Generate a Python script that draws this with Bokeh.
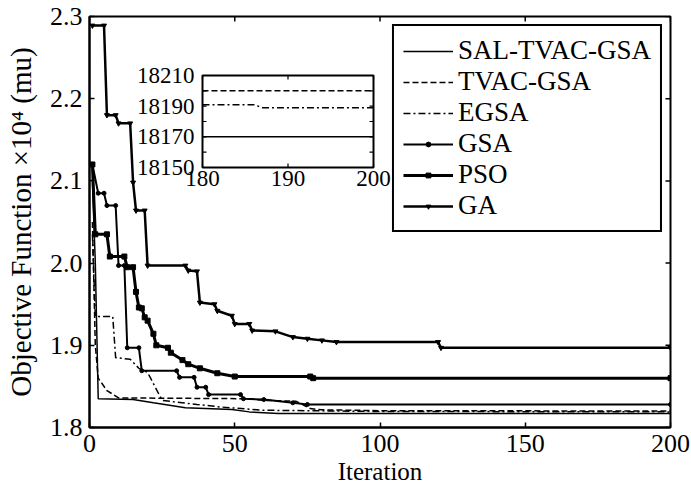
import numpy as np
from bokeh.plotting import figure
from bokeh.models import Range1d, FixedTicker, Legend, LegendItem
from bokeh.core.properties import value
from bokeh.embed import file_html
from bokeh.resources import INLINE

FONT = "Liberation Serif"

# ---------------- data (objective x 10^4) ----------------
sal_iter = [1, 2, 3, 15, 22, 33, 49, 55, 65, 200]
sal_val = [2.10, 2.00, 1.835, 1.834, 1.830, 1.824, 1.822, 1.819, 1.817, 1.817]

tvac_iter = [1, 2, 3, 6, 10, 55, 60, 71, 76, 80, 100, 200]
tvac_val = [2.05, 1.90, 1.860, 1.845, 1.836, 1.835, 1.833, 1.832, 1.823, 1.8215, 1.8205, 1.8200]

egsa_iter = [1, 2, 8, 9, 14, 17, 20, 25, 37, 45, 60, 100, 200]
egsa_val = [2.035, 1.935, 1.935, 1.885, 1.883, 1.872, 1.867, 1.833, 1.828, 1.825, 1.821, 1.8195, 1.819]

gsa_iter = [1, 3, 5, 6, 9, 10, 12, 13, 17, 18, 30, 31, 36, 37, 40, 41, 52, 53, 60, 70, 75, 200]
gsa_val = [2.12, 2.085, 2.085, 2.07, 2.07, 1.997, 1.997, 1.897, 1.897, 1.869, 1.869, 1.861, 1.861,
           1.849, 1.849, 1.840, 1.840, 1.835, 1.834, 1.830, 1.828, 1.828]

pso_iter = [1, 2, 6, 7, 12, 13, 15, 16, 17, 18, 19, 20, 22, 23, 27, 28, 32, 34, 38, 44, 50, 76, 77, 200]
pso_val = [2.12, 2.035, 2.035, 2.008, 2.008, 1.995, 1.995, 1.965, 1.946, 1.945, 1.934, 1.930, 1.914,
           1.900, 1.897, 1.891, 1.882, 1.877, 1.872, 1.866, 1.862, 1.862, 1.860, 1.860]

ga_iter = [1, 5, 6, 9, 10, 14, 15, 16, 19, 20, 33, 34, 37, 38, 43, 44, 49, 50, 55, 56, 64, 70, 75,
           80, 85, 120, 121, 200]
ga_val = [2.289, 2.289, 2.180, 2.180, 2.170, 2.170, 2.098, 2.064, 2.064, 1.997, 1.997, 1.991, 1.990,
          1.952, 1.950, 1.942, 1.936, 1.926, 1.926, 1.918, 1.917, 1.910, 1.908, 1.906, 1.904, 1.904,
          1.897, 1.897]

x_ticks = [0, 50, 100, 150, 200]
y_ticks = [1.8, 1.9, 2.0, 2.1, 2.2, 2.3]

# inset (absolute objective values)
inset_iter = [180, 186, 187, 200]
inset_sal = [18170, 18170, 18170, 18170]
inset_tvac = [18200, 18200, 18200, 18200]
inset_egsa = [18191, 18191, 18189, 18189]
inset_x_ticks = [180, 190, 200]
inset_y_ticks = [18150, 18160, 18170, 18180, 18190, 18200, 18210]
inset_y_label_ticks = [18150, 18170, 18190, 18210]

# ---------------- layout constants (pixels) ----------------
W, H = 691, 489
F_L, F_R, F_T, F_B = 89, 670, 16, 427          # main frame
I_L, I_R, I_T, I_B = 202, 373, 75, 167         # inset frame
X0, X1, Y0, Y1 = 0, 200, 1.8, 2.3
IX0, IX1, IY0, IY1 = 180, 200, 18150, 18210

p = figure(width=W, height=H, x_range=Range1d(X0, X1), y_range=Range1d(Y0, Y1),
           output_backend="svg", toolbar_location=None,
           min_border_left=F_L, min_border_right=W - F_R,
           min_border_top=F_T, min_border_bottom=H - F_B)
p.xgrid.visible = False
p.ygrid.visible = False
p.outline_line_color = "black"
p.outline_line_width = 2
p.background_fill_color = "white"
p.border_fill_color = "white"

# inset ranges mapped into the main frame
sx = (I_R - I_L) / (IX1 - IX0)
sy = (I_B - I_T) / (IY1 - IY0)
p.extra_x_ranges = {"ix": Range1d(IX0 - (I_L - F_L) / sx, IX1 + (F_R - I_R) / sx)}
p.extra_y_ranges = {"iy": Range1d(IY0 - (F_B - I_B) / sy, IY1 + (I_T - F_T) / sy)}

for ax in (p.xaxis[0], p.yaxis[0]):
    ax.axis_line_color = "black"
    ax.axis_line_width = 2
    ax.major_tick_in = 5
    ax.major_tick_out = 0
    ax.minor_tick_line_color = None
    ax.major_tick_line_color = "black"
    ax.major_tick_line_width = 1.5
    ax.major_label_text_font = FONT
    ax.major_label_text_font_size = "26px"
    ax.major_label_text_color = "black"
    ax.axis_label_text_font = FONT
    ax.axis_label_text_font_style = "normal"
    ax.axis_label_text_color = "black"

p.xaxis.ticker = FixedTicker(ticks=x_ticks)
p.yaxis.ticker = FixedTicker(ticks=y_ticks)
p.yaxis.major_label_overrides = {t: f"{t:.1f}" for t in y_ticks}
p.xaxis.axis_label = "Iteration"
p.yaxis.axis_label = "Objective Function \u00d710\u2074 (mu)"
p.xaxis.axis_label_text_font_size = "25px"
p.yaxis.axis_label_text_font_size = "29px"
p.xaxis.major_label_standoff = 7
p.xaxis.axis_label_standoff = 3
p.yaxis.major_label_standoff = 7
p.yaxis.axis_label_standoff = 10

# box ticks on top and right edges (inward)
box_kw = dict(length=5, length_units="screen", line_color="black", line_width=1.5)
p.ray(x=x_ticks, y=[Y1] * len(x_ticks), angle=-np.pi / 2, **box_kw)
p.ray(x=[X1] * len(y_ticks), y=y_ticks, angle=np.pi, **box_kw)

# ---------------- main curves ----------------
r_sal = p.line(sal_iter, sal_val, line_color="black", line_width=1.5)
r_tvac = p.line(tvac_iter, tvac_val, line_color="black", line_width=1.5, line_dash="6 3")
r_egsa = p.line(egsa_iter, egsa_val, line_color="black", line_width=1.5, line_dash="7 3 2 3")
r_gsa = p.line(gsa_iter, gsa_val, line_color="black", line_width=2)
r_gsa_m = p.scatter(gsa_iter, gsa_val, marker="circle", size=4, color="black")
r_pso = p.line(pso_iter, pso_val, line_color="black", line_width=3)
r_pso_m = p.scatter(pso_iter, pso_val, marker="square", size=5, color="black")
r_ga = p.line(ga_iter, ga_val, line_color="black", line_width=2.5)
r_ga_m = p.scatter(ga_iter, ga_val, marker="inverted_triangle", size=5, color="black")

# ---------------- inset ----------------
p.quad(left=[IX0], right=[IX1], bottom=[IY0], top=[IY1], x_range_name="ix", y_range_name="iy",
       fill_color="white", line_color="black", line_width=2)
p.line(inset_iter, inset_tvac, x_range_name="ix", y_range_name="iy",
       line_color="black", line_width=1.5, line_dash="6 3")
p.line(inset_iter, inset_egsa, x_range_name="ix", y_range_name="iy",
       line_color="black", line_width=1.5, line_dash="7 3 2 3")
p.line(inset_iter, inset_sal, x_range_name="ix", y_range_name="iy",
       line_color="black", line_width=1.5)
ny = len(inset_y_ticks)
nx = len(inset_x_ticks)
tick_kw = dict(x_range_name="ix", y_range_name="iy", length=4, length_units="screen",
               line_color="black", line_width=1.2)
p.ray(x=[IX0] * ny, y=inset_y_ticks, angle=0, **tick_kw)
p.ray(x=[IX1] * ny, y=inset_y_ticks, angle=np.pi, **tick_kw)
p.ray(x=inset_x_ticks, y=[IY0] * nx, angle=np.pi / 2, **tick_kw)
p.ray(x=inset_x_ticks, y=[IY1] * nx, angle=-np.pi / 2, **tick_kw)
p.text(x=[IX0] * len(inset_y_label_ticks), y=inset_y_label_ticks,
       text=[str(t) for t in inset_y_label_ticks], x_range_name="ix", y_range_name="iy",
       text_align="right", text_baseline="middle", x_offset=-8,
       text_font=value(FONT), text_font_size="23px", text_color="black")
p.text(x=inset_x_ticks, y=[IY0] * nx, text=[str(t) for t in inset_x_ticks],
       x_range_name="ix", y_range_name="iy",
       text_align="center", text_baseline="top", y_offset=3,
       text_font=value(FONT), text_font_size="23px", text_color="black")

# ---------------- legend ----------------
items = [
    LegendItem(label="SAL-TVAC-GSA", renderers=[r_sal]),
    LegendItem(label="TVAC-GSA", renderers=[r_tvac]),
    LegendItem(label="EGSA", renderers=[r_egsa]),
    LegendItem(label="GSA", renderers=[r_gsa, r_gsa_m]),
    LegendItem(label="PSO", renderers=[r_pso, r_pso_m]),
    LegendItem(label="GA", renderers=[r_ga, r_ga_m]),
]
legend = Legend(items=items, location="top_right")
legend.margin = 8
legend.padding = 9
legend.spacing = 0
legend.label_height = 31
legend.glyph_height = 12
legend.glyph_width = 50
legend.label_standoff = 5
legend.label_text_font = FONT
legend.label_text_font_size = "27px"
legend.label_text_color = "black"
legend.border_line_color = "black"
legend.border_line_alpha = 1.0
legend.border_line_width = 2
legend.background_fill_alpha = 1.0
p.add_layout(legend)

open("out.html", "w").write(file_html(p, INLINE))
